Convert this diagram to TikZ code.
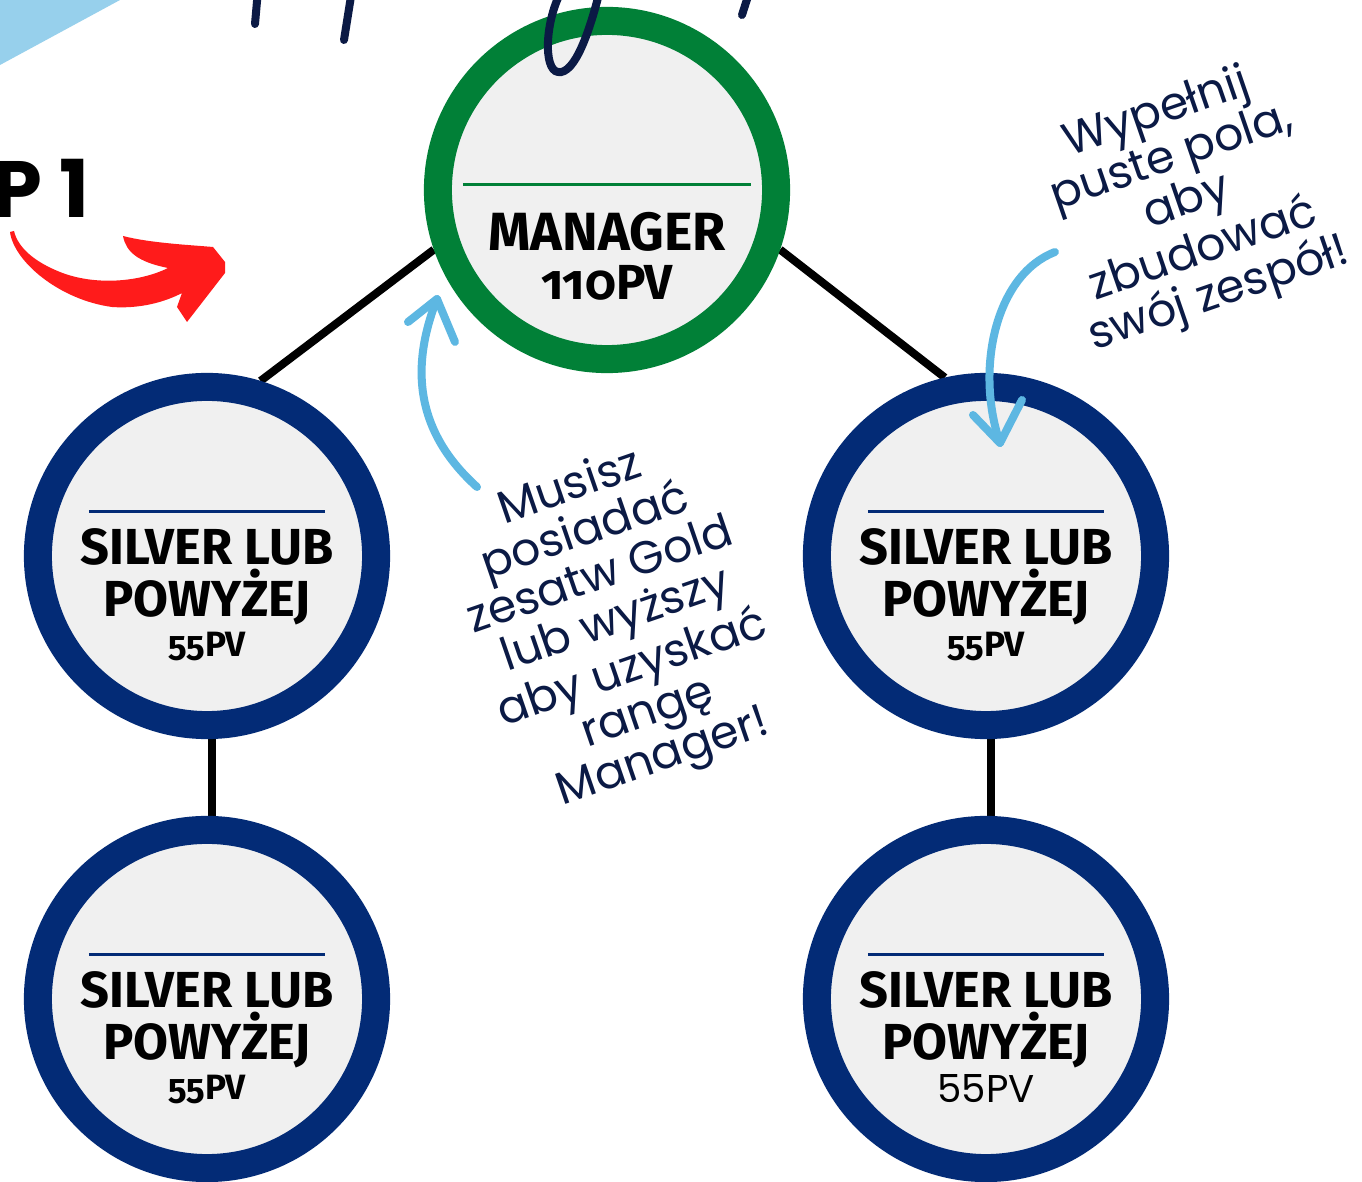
\documentclass[tikz,border=0pt]{standalone}
\usepackage{fontspec}
\setmainfont{Fira Sans}
\newfontfamily\rankfont[Numbers=OldStyle]{Fira Sans}
\newfontfamily\handfont{Poppins}
\newfontfamily\geofont{Poppins}
\usetikzlibrary{backgrounds}
\definecolor{mgrgreen}{HTML}{018037}
\definecolor{silvernavy}{HTML}{032B76}
\definecolor{ringfill}{HTML}{F0F0F0}
\definecolor{notenavy}{HTML}{0B1A45}
\definecolor{noteblue}{HTML}{5DB7E2}
\definecolor{cornerblue}{HTML}{97D0EC}
\definecolor{stepred}{HTML}{FF1B1B}

\begin{document}
\begin{tikzpicture}[x=0.01cm, y=-0.01cm,
	ring/.style={circle, fill=ringfill, line width=0.28cm, minimum size=3.38cm, inner sep=0pt},
	mgrring/.style={ring, draw=mgrgreen},
	silverring/.style={ring, draw=silvernavy},
	tie/.style={line width=0.08cm},
	rankline/.style={font=\rankfont\bfseries\fontsize{14.4}{15}\selectfont, anchor=base, inner sep=0pt},
	mgrline/.style={rankline, font=\rankfont\bfseries\fontsize{15.3}{16}\selectfont},
	mgrpv/.style={rankline, font=\rankfont\bfseries\fontsize{14}{15}\selectfont},
	pvline/.style={rankline, font=\rankfont\bfseries\fontsize{10}{11}\selectfont},
	pvplain/.style={rankline, font=\geofont\fontsize{11}{12}\selectfont},
	note/.style={font=\handfont\fontsize{13}{13.3}\selectfont, text=notenavy, align=center, inner sep=0pt},
	notearrow/.style={noteblue, line width=0.08cm, line cap=round, line join=round}]
	\useasboundingbox (0,0) rectangle (1362,1182);
	\clip (0,0) rectangle (1362,1182);
	
	% circles
	\node[mgrring] (mgr) at (607,190) {};
	\foreach \n/\x/\y in {s1/207/556, s2/986/556, s3/207/999, s4/986/999}
		\node[silverring] (\n) at (\x,\y) {};
	
	% connectors behind the circles
	\begin{scope}[on background layer]
		\fill[white] (0,0) rectangle (1362,1182);
		\draw[tie] (mgr.199) -- (s1.73);
		\draw[tie] (mgr.341) -- (s2.103);
		\draw[tie] ([xshift=0.05cm]s1.south) -- ([xshift=0.05cm]s3.north);
		\draw[tie] ([xshift=0.05cm]s2.south) -- ([xshift=0.05cm]s4.north);
	\end{scope}
	
	% texts in the circles
	\draw[mgrgreen, line width=0.03cm] ([xshift=-1.44cm, yshift=0.05cm]mgr.center) -- ([xshift=1.44cm, yshift=0.05cm]mgr.center);
	\node[mgrline] (mgrname) at ([yshift=-0.60cm]mgr.center) {MANAGER};
	\node[mgrpv] (mgrpts) at ([yshift=-1.09cm]mgr.center) {110PV};
	\foreach \n in {s1,s2,s3,s4} {
		\draw[silvernavy, line width=0.03cm] ([xshift=-1.18cm, yshift=0.44cm]\n.center) -- ([xshift=1.18cm, yshift=0.44cm]\n.center);
		\node[rankline] (\n top) at ([yshift=-0.08cm]\n.center) {SILVER LUB};
		\node[rankline] (\n mid) at ([yshift=-0.60cm]\n.center) {POWYŻEJ};
	}
	\foreach \n in {s1,s2,s3}
		\node[pvline] (\n pts) at ([yshift=-1.00cm]\n.center) {55PV};
	\node[pvplain] (s4 pts) at ([yshift=-1.03cm]s4.center) {55PV};
	
	% corner and step label
	\fill[cornerblue] (0,0) -- (120,0) -- (0,65) -- cycle;
	\node[font=\geofont\bfseries\fontsize{22.7}{24}\selectfont, anchor=base east, inner sep=0pt] (steplbl) at (90,218) {P 1};
	\fill[stepred] (10,232) .. controls (14,262) and (60,300) .. (112,307)
		.. controls (140,309) and (165,302) .. (182,293) -- (177,307) -- (187,322)
		-- (225,273) -- (225,262) -- (213,247)
		.. controls (190,245) and (150,243) .. (123,236)
		.. controls (126,252) and (138,262) .. (168,268)
		.. controls (140,282) and (95,286) .. (60,272)
		.. controls (35,262) and (18,248) .. (14,231) -- cycle;
	
	% title strokes cut at the top
	\begin{scope}[notenavy, line width=0.08cm, line cap=round]
		\draw (258,-10) -- (255,24);
		\draw (352,-10) -- (344,40);
		\draw (600,-10) .. controls (590,30) and (575,75) .. (558,72) .. controls (543,70) and (545,20) .. (562,-10);
		\draw (750,-10) -- (742,15);
	\end{scope}
	
	% notes
	\node[note, rotate=19] (needgold) at (617,624) {Musisz\\posiadać\\zesatw Gold\\lub wyższy\\aby uzyskać\\rangę\\Manager!};
	\node[note, rotate=19] (fillin) at (1188,205) {Wypełnij\\puste pola,\\aby\\zbudować\\swój zespół!};
	
	\coordinate (goldtail) at (477,487);
	\coordinate (goldtip) at (437,299);
	\draw[notearrow] (goldtail) .. controls (425,440) and (405,380) .. (goldtip);
	\draw[notearrow] (408,322) -- (goldtip) -- (455,342);
	\coordinate (filltail) at (1055,252);
	\coordinate (filltip) at (1000,443);
	\draw[notearrow] (filltail) .. controls (995,275) and (975,370) .. (filltip);
	\draw[notearrow] (973,415) -- (filltip) -- (1022,400);
\end{tikzpicture}
\end{document}
